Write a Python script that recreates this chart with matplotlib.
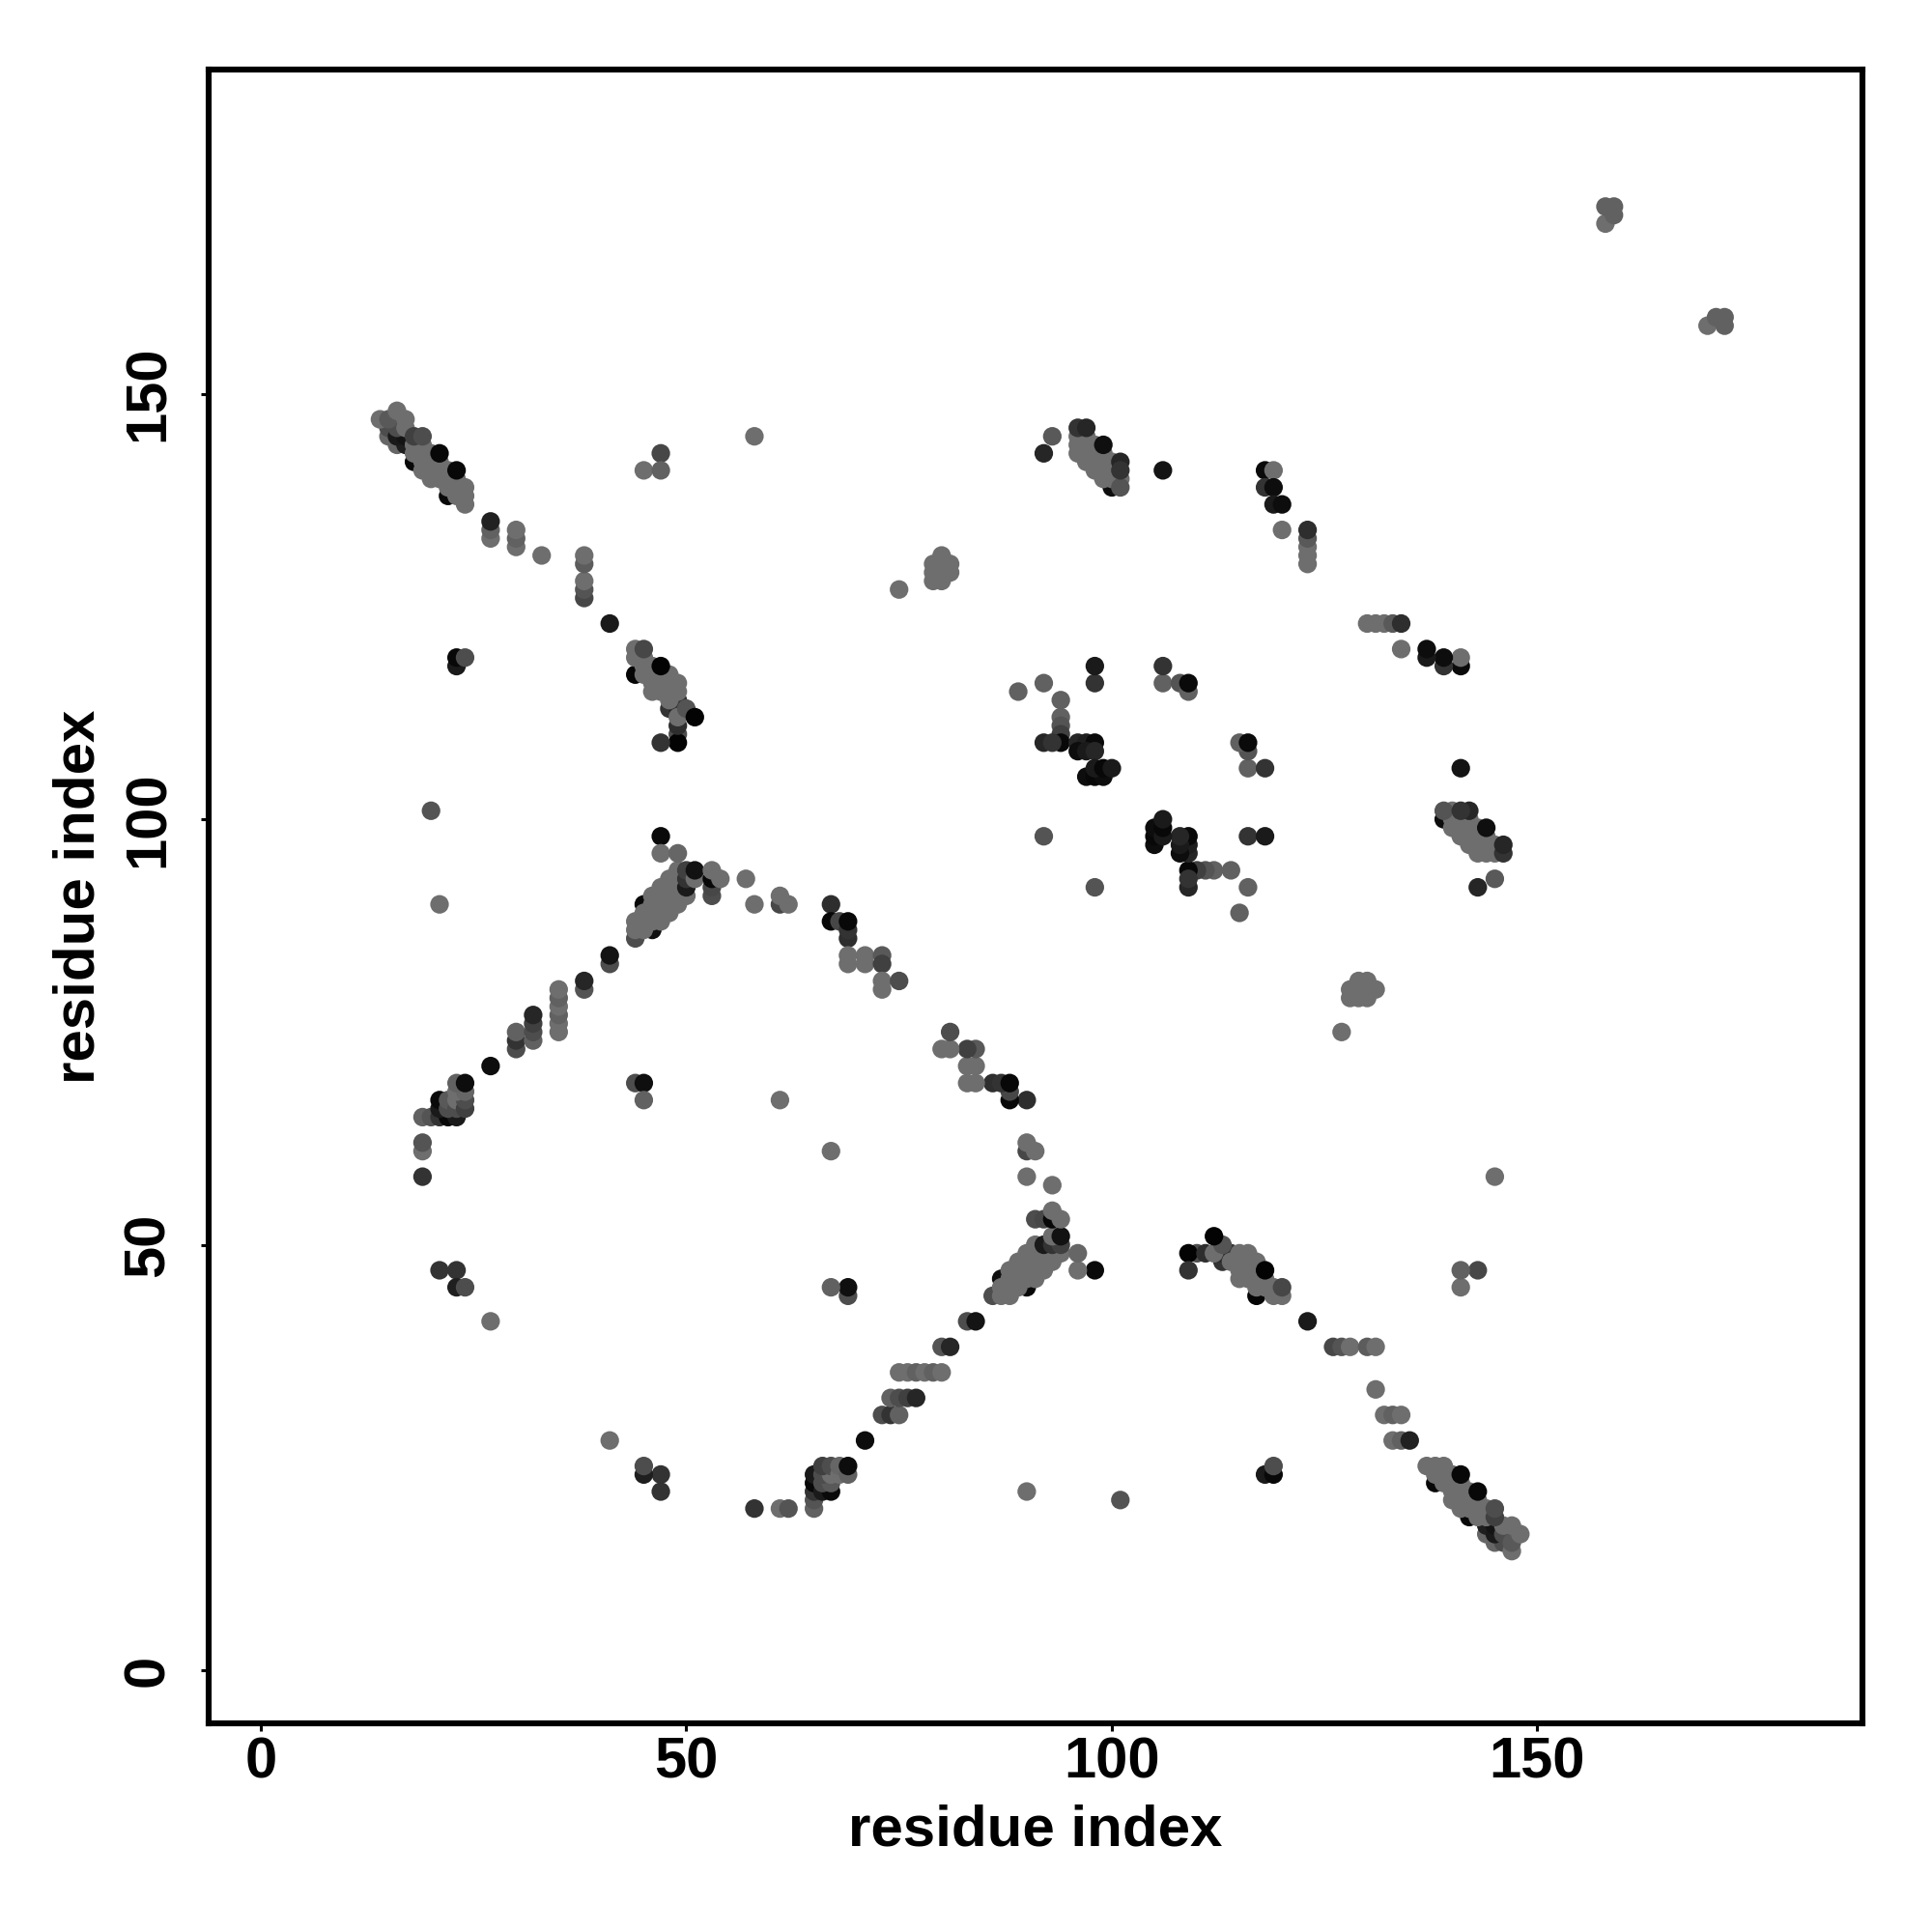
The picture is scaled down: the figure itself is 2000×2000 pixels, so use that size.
import numpy as np
import matplotlib
matplotlib.use("Agg")
import matplotlib.pyplot as plt

plt.rcParams['font.family'] = ['Liberation Sans', 'DejaVu Sans']

# contacts as (i, j, grey) with i < j, both (i,j) and (j,i) get drawn
# order matters, later points sit on top
M = 0.43  # the common mid grey

strand_a = [
    (18,142,.03),(22,138,.03),(16,144,.4),(17,144,.12),(15,145,.4),(15,146,.3),(16,145,.1),(17,145,.08),(16,146,.3),
    (14,147,M),(15,147,.35),(16,148,M),(17,147,M),(17,146,M),
    (18,144,M),(18,143,M),(19,144,M),(19,143,M),(19,142,M),(19,141,M),(20,143,M),(20,142,M),(20,141,M),(20,140,M),
    (21,142,M),(21,141,M),(21,140,M),(22,141,M),(22,140,M),(22,139,M),(23,140,M),(23,139,M),(23,138,M),
    (24,139,M),(24,138,M),(24,137,M),
    (18,145,.25),(19,145,.3),(21,143,.03),(23,141,.03),
]
strand_b = [
    (27,133,M),(27,134,.38),(27,135,.13),(30,132,M),(30,133,.38),(30,134,M),(33,131,M),
    (38,126,.28),(38,127,.33),(38,128,M),(38,130,.36),(38,131,M),(41,123,.1),
    (23,118,.1),(23,119,.03),(24,119,.3),
]
strand_c = [
    (44,117,.02),(48,113,.2),(49,113,.15),(49,114,.2),
    (44,120,M),(44,119,M),(45,119,M),(45,118,M),(46,118,M),(46,117,M),(45,117,M),(46,116,M),(46,115,M),
    (47,117,M),(47,116,M),(47,115,M),(48,117,M),(48,116,M),(48,115,M),(48,114,M),(49,116,M),(49,115,M),
    (45,120,.28),(47,118,.01),(49,110,.3),(49,109,.01),(49,111,.18),(49,112,M),(50,113,.33),(51,112,.01),(47,109,.2),
]
chain_a = [
    (19,58,.2),(19,61,M),(19,62,.33),(19,65,.38),(20,65,.33),(21,65,.2),(22,65,.03),(23,65,.1),(21,66,.1),
    (21,67,.04),(22,66,.3),(22,67,.35),(23,66,.3),(23,67,M),(24,66,.25),(24,67,.3),(23,68,M),(24,68,.4),(23,69,.38),(24,69,.05),
    (27,71,.05),(30,73,.3),(30,74,.2),(30,75,.38),(32,74,.38),(32,75,.3),(32,76,.25),(32,77,.15),
    (35,75,M),(35,76,M),(35,77,.38),(35,78,M),(35,79,.38),(35,80,M),(38,80,.33),(38,81,.15),(41,83,.3),(41,84,.08),
]
chain_b = [
    (45,90,.03),(46,87,.06),(44,86,.3),(44,87,M),(44,88,M),(45,87,M),(45,88,M),(45,89,M),
    (46,88,M),(46,89,M),(46,90,M),(46,91,M),(47,88,M),(47,89,M),(47,90,M),(47,91,M),(47,92,M),(48,89,M),(48,90,M),(48,91,M),(48,92,M),
    (48,93,M),(49,90,M),(49,91,M),(49,92,M),(49,93,M),(49,94,M),(50,91,M),
    (50,92,.1),(50,93,.2),(50,94,.25),(51,93,M),(51,94,.07),
    (47,98,.04),(47,96,M),(49,96,.4),
    (53,91,.3),(53,92,.28),(53,93,.03),(53,94,M),(54,93,M),(57,93,M),(58,90,M),
    (61,90,.28),(61,91,M),(62,90,M),
]
chain_c = [
    (67,90,.18),(67,88,.03),(68,88,.28),(69,86,.18),(69,87,.2),(69,88,.03),(69,84,M),(69,83,M),(71,84,M),(71,83,M),
    (73,84,.35),(73,83,.25),(73,81,M),(73,80,M),(75,81,.3),
]
block_a = [
    (92,98,.33),(89,115,.38),(92,116,.38),(94,114,.38),(94,112,.38),(94,111,.33),(94,110,.25),(94,109,.03),
    (92,109,.15),(93,109,.2),(96,109,.15),(97,109,.12),(98,109,.04),(96,108,.05),(97,108,.1),(98,108,.15),
    (97,105,.05),(98,105,.03),(99,105,.05),(98,106,.1),(99,106,.03),(100,106,.1),
    (98,116,.2),(98,118,.1),(106,116,.38),(106,118,.2),(108,116,.33),(109,115,.38),(109,116,.04),
]
strand_d = [
    (100,139,.05),(92,143,.15),(93,145,.35),
    (96,143,M),(96,144,M),(96,145,M),(97,142,M),(97,143,M),(97,144,M),(97,145,M),(98,141,M),(98,142,M),(98,143,M),(98,144,M),
    (99,140,M),(99,141,M),(99,142,M),(99,143,M),(100,140,M),(100,141,M),(100,142,M),(101,140,M),(101,139,.33),
    (96,146,.2),(97,146,.15),(99,144,.06),(101,142,.15),(101,141,.2),(106,141,.08),
]
strand_e = [
    (118,141,.04),(119,141,M),(118,139,.2),(119,139,.05),(119,137,.1),(120,137,.05),(120,134,M),
    (123,130,M),(123,131,M),(123,132,M),(123,133,.35),(123,134,.18),
]
strand_g = [
    (75,127,M),(79,128,M),(79,129,M),(79,130,M),(80,128,M),(80,129,M),(80,130,M),(80,131,M),(81,129,M),(81,130,M),
    (158,170,M),(158,172,.38),(159,172,.38),(159,171,.38),
]
singles = [
    (20,101,.33),(21,90,M),(27,41,M),(21,47,.2),(23,47,.2),(23,45,.12),(24,45,.3),
    (44,69,.3),(45,69,.06),(45,67,.38),(45,141,M),(47,143,.28),(47,141,.38),(58,145,M),(61,67,M),
]

clusters = [strand_a, strand_b, strand_c, chain_a, chain_b, chain_c,
            block_a, strand_d, strand_e, strand_g, singles]
contacts = np.array([c for cl in clusters for c in cl])
res_i, res_j, grey = contacts[:, 0], contacts[:, 1], contacts[:, 2]
ticks = [0, 50, 100, 150]

fig = plt.figure(figsize=(10, 10), dpi=200, facecolor='white')
ax = fig.add_axes([216/2000, 216/2000, (1928-216)/2000, (1784-72)/2000])

colors = [str(g) for g in grey]
ax.scatter(res_i, res_j, s=48, c=colors, linewidths=0, zorder=2)
ax.scatter(res_j, res_i, s=48, c=colors, linewidths=0, zorder=2)

ax.set_xlim(-6.13, 188.2)
ax.set_ylim(-6.24, 188.1)
ax.set_xticks(ticks)
ax.set_yticks(ticks)
for s in ax.spines.values():
    s.set_linewidth(2.2)
ax.tick_params(axis='both', length=2.9, width=1.1, labelsize=21.5)
ax.tick_params(axis='x', pad=2)
ax.tick_params(axis='y', pad=9.5)
for t in ax.get_xticklabels() + ax.get_yticklabels():
    t.set_fontweight('bold')
for t in ax.get_yticklabels():
    t.set_rotation(90)
    t.set_va('center')

ax.set_xlabel('residue index', fontsize=21.6, fontweight='bold', labelpad=5.5)
ax.set_ylabel('residue index', fontsize=21.6, fontweight='bold', labelpad=6)

fig.savefig('out.png', dpi=200)
